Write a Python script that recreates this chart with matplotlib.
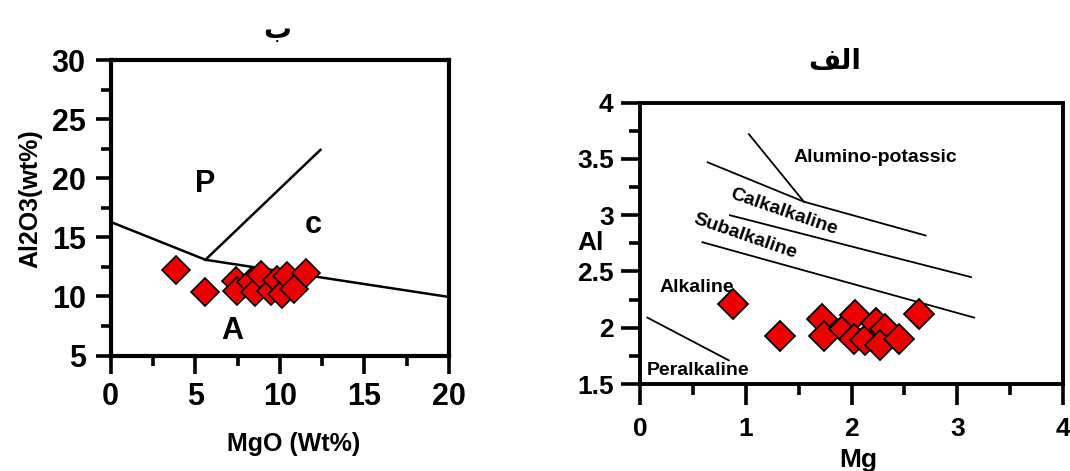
import matplotlib
matplotlib.use("Agg")
import matplotlib.pyplot as plt
from matplotlib.ticker import MultipleLocator

plt.rcParams['font.family'] = ['Liberation Sans', 'DejaVu Sans']
plt.rcParams['font.weight'] = 'bold'

# ---------------- data ----------------
# Left panel (ب): MgO vs Al2O3
mgo = [3.88, 5.56, 7.38, 7.48, 8.27, 8.56, 8.86, 9.45, 9.85, 10.15, 10.45, 10.84, 11.53]
al2o3 = [12.25, 10.33, 11.32, 10.47, 11.18, 10.40, 11.85, 10.45, 11.35, 10.19, 11.74, 10.61, 11.95]
# boundary lines (left)
lb_main_x = [0.0, 5.6, 20.0]
lb_main_y = [16.3, 13.1, 9.95]
lb_diag_x = [5.6, 12.4]
lb_diag_y = [13.1, 22.4]

# Right panel (الف): Mg vs Al
mg = [0.88, 1.32, 1.72, 1.74, 1.93, 2.03, 2.02, 2.13, 2.23, 2.32, 2.27, 2.45, 2.64]
al = [2.21, 1.93, 2.08, 1.93, 1.99, 2.11, 1.90, 1.89, 2.04, 1.99, 1.85, 1.90, 2.12]
# boundary lines (right)
rb_calk_x = [0.64, 1.55, 2.70]
rb_calk_y = [3.47, 3.12, 2.82]
rb_alum_x = [1.03, 1.55]
rb_alum_y = [3.72, 3.12]
rb_sub_x = [0.85, 3.13]
rb_sub_y = [3.00, 2.45]
rb_alk_x = [0.59, 3.16]
rb_alk_y = [2.76, 2.09]
rb_per_x = [0.07, 0.84]
rb_per_y = [2.09, 1.71]

left_xticks = [0, 5, 10, 15, 20]
left_yticks = [5, 10, 15, 20, 25, 30]
right_xticks = [0, 1, 2, 3, 4]
right_yticks = [1.5, 2, 2.5, 3, 3.5, 4]
right_yticklabels = ['1.5', '2', '2.5', '3', '3.5', '4']

title_left = 'ب'
# "الف" written in Arabic presentation forms (visual order) so it renders joined
title_right = '\uFED2\uFEDF\uFE8D'

# ---------------- figure ----------------
W, H = 1070, 471
fig = plt.figure(figsize=(W / 100, H / 100), dpi=100)

def px_axes(l, t, r, b):
    return fig.add_axes([l / W, 1 - b / H, (r - l) / W, (b - t) / H])

axL = px_axes(110.7, 60, 449, 355.5)
axR = px_axes(640, 102.7, 1063, 384)

marker_kw = dict(marker='D', color='#ee0000', markeredgecolor='black', linestyle='none')

# Left panel
axL.plot(lb_main_x, lb_main_y, color='black', lw=1.8, zorder=2)
axL.plot(lb_diag_x, lb_diag_y, color='black', lw=1.8, zorder=2)
axL.plot(mgo, al2o3, markersize=14, markeredgewidth=1.2, zorder=3, **marker_kw)
axL.set_xlim(0, 20)
axL.set_ylim(5, 30)
axL.set_xticks(left_xticks)
axL.set_yticks(left_yticks)
axL.xaxis.set_minor_locator(MultipleLocator(2.5))
axL.yaxis.set_minor_locator(MultipleLocator(2.5))
axL.tick_params(which='major', direction='out', length=13, width=2.6, labelsize=22, pad=6)
axL.tick_params(which='minor', direction='out', length=7, width=2.6)
axL.tick_params(axis='y', which='major', length=11, pad=7)
for s in axL.spines.values():
    s.set_linewidth(3.0)
axL.set_xlabel('MgO (Wt%)', fontsize=18, fontweight='bold', va='top')
axL.xaxis.set_label_coords(0.542, -0.258)
axL.set_ylabel('Al2O3(wt%)', fontsize=18, fontweight='bold', va='center')
axL.yaxis.set_label_coords(-0.238, 0.53)
axL.text(5.6, 19.5, 'P', fontsize=22, fontweight='bold', ha='center', va='center')
axL.text(11.95, 16.0, 'c', fontsize=22, fontweight='bold', ha='center', va='center')
axL.text(7.2, 7.1, 'A', fontsize=22, fontweight='bold', ha='center', va='center')

# Right panel
for xs, ys in [(rb_calk_x, rb_calk_y), (rb_alum_x, rb_alum_y), (rb_sub_x, rb_sub_y),
               (rb_alk_x, rb_alk_y), (rb_per_x, rb_per_y)]:
    axR.plot(xs, ys, color='black', lw=1.3, zorder=2)
axR.plot(mg, al, markersize=15, markeredgewidth=1.3, zorder=3, **marker_kw)
axR.set_xlim(0, 4)
axR.set_ylim(1.5, 4)
axR.set_xticks(right_xticks)
axR.set_yticks(right_yticks)
axR.set_yticklabels(right_yticklabels)
axR.xaxis.set_minor_locator(MultipleLocator(0.5))
axR.yaxis.set_minor_locator(MultipleLocator(0.25))
axR.tick_params(which='major', direction='out', length=15, width=2.6, labelsize=19, pad=9)
axR.tick_params(which='minor', direction='out', length=8, width=2.6)
axR.tick_params(axis='y', which='major', length=14, pad=5)
for s in axR.spines.values():
    s.set_linewidth(2.8)
axR.set_xlabel('Mg', fontsize=19, fontweight='bold', va='top')
axR.xaxis.set_label_coords(0.515, -0.228)
axR.set_ylabel('Al', fontsize=19, fontweight='bold', rotation=0, va='center', ha='center')
axR.yaxis.set_label_coords(-0.116, 0.50)
ann_kw = dict(fontsize=14, fontweight='bold', ha='center', va='center')
axR.text(2.23, 3.51, 'Alumino-potassic', **ann_kw)
axR.text(1.36, 3.03, 'Calkalkaline', rotation=-19, rotation_mode='anchor', **ann_kw)
axR.text(0.99, 2.81, 'Subalkaline', rotation=-19, rotation_mode='anchor', **ann_kw)
axR.text(0.54, 2.36, 'Alkaline', **ann_kw)
axR.text(0.55, 1.62, 'Peralkaline', **ann_kw)

# Titles (Arabic)
fig.text(276.7 / W, 1 - 30 / H, title_left, fontsize=20, fontweight='bold',
         family=['DejaVu Sans'], ha='center', va='center')
fig.text(835 / W, 1 - 61 / H, title_right, fontsize=20, fontweight='bold',
         family=['DejaVu Sans'], ha='center', va='center')

fig.savefig('out.png', dpi=100)
